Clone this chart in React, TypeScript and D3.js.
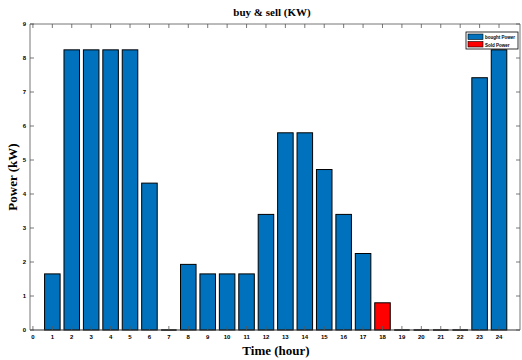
import React from "react";
import * as d3 from "d3";

const hours = Array.from({ length: 24 }, (_, i) => i + 1);
const bought = [1.65, 8.24, 8.24, 8.24, 8.24, 4.32, 0, 1.93, 1.65, 1.65, 1.65, 3.4, 5.8, 5.8, 4.72, 3.4, 2.25, 0, 0, 0, 0, 0, 7.42, 8.24];
const sold = [0, 0, 0, 0, 0, 0, 0, 0, 0, 0, 0, 0, 0, 0, 0, 0, 0, 0.8, 0, 0, 0, 0, 0, 0];
const xTicks = d3.range(0, 25);
const yTicks = d3.range(0, 10);
const legendLabels = ["bought Power", "Sold Power"];
const colors = ["#0072BD", "#FF0000"];

export default function App() {
  const W = 522, H = 360;
  const L = 30, R = 520, T = 24, B = 330;
  const x = d3.scaleLinear().domain([-0.15, 25.08]).range([L, R]);
  const y = d3.scaleLinear().domain([0, 9]).range([B, T]);
  const bw = (x(1) - x(0)) * 0.8;
  const axisColor = "#333";
  return (
    <svg width={W} height={H} style={{ position: "absolute", left: 0, top: 0, background: "#fff" }}>
      <rect x={0} y={0} width={W} height={H} fill="#fff" />
      {hours.map((h, i) => (
        <g key={h}>
          {bought[i] > 0 && (
            <rect x={x(h) - bw / 2} y={y(bought[i])} width={bw} height={y(0) - y(bought[i])} fill={colors[0]} stroke="#000" strokeWidth={1} />
          )}
          {sold[i] > 0 && (
            <rect x={x(h) - bw / 2} y={y(sold[i])} width={bw} height={y(0) - y(sold[i])} fill={colors[1]} stroke="#000" strokeWidth={1} />
          )}
          {bought[i] === 0 && sold[i] === 0 && (
            <line x1={x(h) - bw / 2} x2={x(h) + bw / 2} y1={y(0)} y2={y(0)} stroke="#000" strokeWidth={1.5} />
          )}
        </g>
      ))}
      {/* axes box */}
      <line x1={L} x2={R} y1={B} y2={B} stroke={axisColor} strokeWidth={1.2} />
      <line x1={L} x2={R} y1={T} y2={T} stroke="#777" strokeWidth={1} />
      <line x1={L} x2={L} y1={T} y2={B} stroke="#777" strokeWidth={1} />
      <line x1={R} x2={R} y1={T} y2={B} stroke="#777" strokeWidth={1} />
      {xTicks.map((t) => (
        <g key={"x" + t}>
          <line x1={x(t)} x2={x(t)} y1={B} y2={B - 4} stroke="#555" strokeWidth={0.8} />
          <line x1={x(t)} x2={x(t)} y1={T} y2={T + 4} stroke="#555" strokeWidth={0.8} />
          <text x={x(t)} y={B + 9} fontSize={6} fontWeight="bold" fontFamily="Liberation Sans, Arial, sans-serif" textAnchor="middle">{t}</text>
        </g>
      ))}
      {yTicks.map((t) => (
        <g key={"y" + t}>
          <line x1={L} x2={L + 4} y1={y(t)} y2={y(t)} stroke="#555" strokeWidth={0.8} />
          <line x1={R} x2={R - 4} y1={y(t)} y2={y(t)} stroke="#555" strokeWidth={0.8} />
          <text x={L - 4} y={y(t) + 2} fontSize={6} fontWeight="bold" fontFamily="Liberation Sans, Arial, sans-serif" textAnchor="end">{t}</text>
        </g>
      ))}
      <text x={272} y={16} fontSize={11} fontWeight="bold" fontFamily="Liberation Serif, Times New Roman, serif" textAnchor="middle">buy &amp; sell (KW)</text>
      <text x={276} y={355} fontSize={13} fontWeight="bold" fontFamily="Liberation Serif, Times New Roman, serif" textAnchor="middle">Time (hour)</text>
      <text transform={`translate(17,${(T + B) / 2}) rotate(-90)`} fontSize={13} fontWeight="bold" fontFamily="Liberation Serif, Times New Roman, serif" textAnchor="middle">Power (kW)</text>
      {/* legend */}
      <rect x={466} y={32} width={52} height={17} fill="#fff" stroke="#000" strokeWidth={0.8} />
      {legendLabels.map((lab, i) => (
        <g key={lab}>
          <rect x={468} y={34 + i * 7.5} width={15} height={5.5} fill={colors[i]} stroke="#000" strokeWidth={0.6} />
          <text x={485} y={39 + i * 7.5} fontSize={4.5} fontWeight="bold" fontFamily="Liberation Sans, Arial, sans-serif">{lab}</text>
        </g>
      ))}
    </svg>
  );
}
